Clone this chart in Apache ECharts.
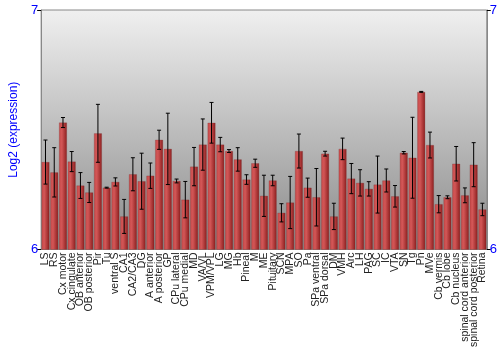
<!DOCTYPE html>
<html><head><meta charset="utf-8">
<script src="https://cdn.jsdelivr.net/npm/echarts@6/dist/echarts.min.js"></script>
<style>html,body{margin:0;padding:0;background:#fff}#c{width:500px;height:350px}</style>
</head><body><div id="c"></div>
<script>
var categories = ["LS","RS","Cx motor","Cx cingulate","OB anterior","OB posterior","Pir","Tu","ventral S","CA1","CA2/CA3","DG","A anterior","A posterior","GP","CPu lateral","CPu medial","MD","VA/VL","VPM/VPL","LG","MG","Hb","Pineal","M","ME","Pituitary","SCN","MPA","SO","Pa","SPa ventral","SPa dorsal","DM","VMH","Arc","LH","PAG","SC","IC","VTA","SN","Tg","Pn","MVe","Cb vermis","Cb lobe","Cb nucleus","spinal cord anterior","spinal cord posterior","Retina"];
var values = [6.365,6.322,6.530,6.367,6.267,6.238,6.485,6.258,6.282,6.138,6.314,6.285,6.308,6.458,6.420,6.286,6.208,6.346,6.438,6.529,6.438,6.411,6.376,6.292,6.360,6.224,6.288,6.153,6.196,6.411,6.258,6.218,6.400,6.138,6.420,6.296,6.278,6.253,6.271,6.288,6.222,6.404,6.383,6.658,6.436,6.189,6.218,6.358,6.226,6.354,6.167];
var errors = [0.092,0.103,0.021,0.042,0.054,0.042,0.121,0.002,0.017,0.071,0.069,0.117,0.053,0.040,0.149,0.008,0.076,0.080,0.107,0.085,0.030,0.006,0.049,0.020,0.017,0.086,0.022,0.038,0.109,0.071,0.040,0.120,0.010,0.055,0.045,0.063,0.055,0.030,0.119,0.048,0.045,0.005,0.169,0.002,0.054,0.036,0.006,0.072,0.031,0.092,0.026];
var yTicks = [6, 7];

var chart = echarts.init(document.getElementById('c'), null, {renderer:'canvas'});
var errData = values.map(function(v,i){ return [i, v - errors[i], v + errors[i]]; });
var axisLabelStyle = {color:'#0000ff', fontSize:13, fontFamily:'Liberation Sans, Arial'};
chart.setOption({
  animation:false,
  grid:{left:27, right:13, top:10, bottom:100, show:true, borderColor:'#888', borderWidth:1,
    backgroundColor:new echarts.graphic.LinearGradient(0,0,0,1,[{offset:0,color:'#f0f0f0'},{offset:1,color:'#8a8a8a'}])},
  xAxis:{type:'category', data:categories, boundaryGap:true,
    axisLine:{show:false}, axisTick:{show:false},
    axisLabel:{rotate:90, interval:0, fontSize:10.5, color:'#222', fontFamily:'Liberation Sans, Arial', margin:3}},
  yAxis:[
    {type:'value', min:6, max:7, interval:1, position:'left',
     name:'Log2 (expression)', nameLocation:'middle', nameGap:17,
     nameTextStyle:{color:'#0000ff', fontSize:12, fontFamily:'Liberation Sans, Arial'},
     axisLine:{show:true, lineStyle:{color:'#888'}}, axisTick:{show:true, length:4, lineStyle:{color:'#000'}},
     splitLine:{show:false}, axisLabel:Object.assign({margin:3, formatter:function(v){return yTicks.indexOf(v)>=0?String(v):'';}}, axisLabelStyle)},
    {type:'value', min:6, max:7, interval:1, position:'right',
     axisLine:{show:true, lineStyle:{color:'#888'}}, axisTick:{show:true, length:4, lineStyle:{color:'#000'}},
     splitLine:{show:false}, axisLabel:Object.assign({margin:3, formatter:function(v){return yTicks.indexOf(v)>=0?String(v):'';}}, axisLabelStyle)}
  ],
  series:[
    {type:'bar', data:values, barCategoryGap:'10%',
     itemStyle:{color:new echarts.graphic.LinearGradient(0,0,1,0,[{offset:0,color:'#c84a4a'},{offset:0.35,color:'#d25656'},{offset:1,color:'#8c1e1e'}]),
       borderColor:'rgba(120,40,40,0.5)', borderWidth:0.5}},
    {type:'custom', data:errData, z:10,
     renderItem:function(params, api){
       var x = api.coord([api.value(0), api.value(1)]);
       var lo = x[1];
       var hi = api.coord([api.value(0), api.value(2)])[1];
       var cx = x[0];
       var w = 2;
       var st = {stroke:'#000', lineWidth:1};
       return {type:'group', children:[
         {type:'line', shape:{x1:cx, y1:lo, x2:cx, y2:hi}, style:st},
         {type:'line', shape:{x1:cx-w, y1:lo, x2:cx+w, y2:lo}, style:st},
         {type:'line', shape:{x1:cx-w, y1:hi, x2:cx+w, y2:hi}, style:st}
       ]};
     }}
  ]
});
</script></body></html>
